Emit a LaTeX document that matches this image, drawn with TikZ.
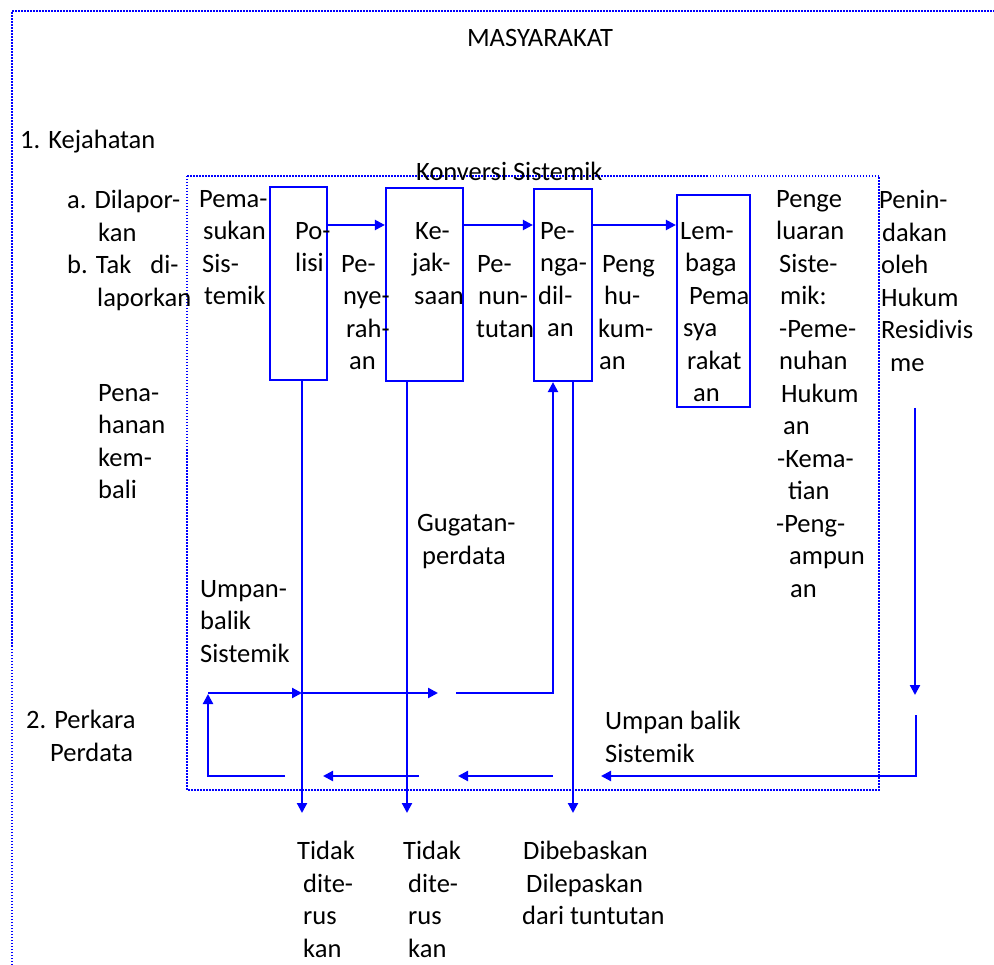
\documentclass[tikz,border=0pt]{standalone}
\usepackage{fontspec}
\setmainfont{Carlito}
\usetikzlibrary{arrows.meta, positioning, calc}

\begin{document}
\begin{tikzpicture}[
    x=1pt, y=-1pt,
    >={Triangle[length=10pt, width=10pt]},
    every node/.style={font=\fontsize{26.5}{32.5}\selectfont},
]
% Colors
\definecolor{lineblue}{RGB}{0,0,255}
% ============================================================
% Styles
% ============================================================
\tikzset{
    unitbox/.style={
        draw=lineblue,
        line width=2.2pt,
        inner sep=0pt,
    },
    flow/.style={->, lineblue, line width=2.2pt},
    frame/.style={lineblue, line width=1.5pt, dash pattern=on 1.5pt off 1.5pt},
    % texts: the given point is the baseline of the first line
    txt/.style={inner sep=0pt, anchor=north west, yshift=18.75pt, align=left,
        execute at begin node=\strut},
}
\useasboundingbox (0,0) rectangle (994,965);

% ============================================================
% Frames: society (only top and left sides visible) and system
% ============================================================
\coordinate (outerNW) at (12,11);
\draw[frame] (outerNW |- 0,965) -- (outerNW) -- (994,11);
\draw[frame] (187,176) rectangle (879,790);

\node[anchor=base, inner sep=0pt] (masy) at (540,47) {MASYARAKAT};
\node[txt] (kejahatan) at (20,144) {1. Kejahatan};
\node[txt] (konversi) at (416,176) {Konversi Sistemik};

% ============================================================
% Four institution boxes
% ============================================================
\node[unitbox, minimum width=57pt, minimum height=193pt] (polisi) at (298.5,283.5) {};
\node[unitbox, minimum width=77pt, minimum height=193pt] (kejaksaan) at (424.5,284.5) {};
\node[unitbox, minimum width=58pt, minimum height=192pt] (pengadilan) at (563,285) {};
\node[unitbox, minimum width=73pt, minimum height=212pt] (lembaga) at (713.5,301) {};

% --- Texts in and between the boxes ---
\node[txt] (lapor) at (67,209) {a. Dilapor-\\\hspace*{31pt}kan\\b. Tak\hspace{19pt}di-\\\hspace*{30pt}laporkan};
\node[txt] (pemasukan) at (199,209) {Pema-\\\hspace*{4pt}sukan\\\hspace*{3pt}Sis-\\\hspace*{5pt}temik};
\node[txt] (polisitxt) at (295,241) {Po-\\lisi};
\node[txt] (penyerahan) at (341,274) {Pe-\\\hspace*{2pt}nye-\\\hspace*{5pt}rah-\\\hspace*{8pt}an};
\node[txt] (kejaksaantxt) at (412,241) {\hspace*{3pt}Ke-\\jak-\\\hspace*{2pt}saan};
\node[txt] (penuntutan) at (476,274) {\hspace*{1pt}Pe-\\\hspace*{2pt}nun-\\tutan};
\node[txt] (pengadilantxt) at (538,241) {\hspace*{2pt}Pe-\\\hspace*{2pt}nga-\\dil-\\\hspace*{9pt}an};
\node[txt] (penghukuman) at (598,274) {\hspace*{4pt}Peng\\\hspace*{6pt}hu-\\kum-\\\hspace*{1pt}an};
\node[txt] (lembagatxt) at (680,241) {Lem-\\\hspace*{5pt}baga\\\hspace*{9pt}Pema\\\hspace*{3pt}sya\\\hspace*{7pt}rakat\\\hspace*{13pt}an};
\node[txt] (pengeluaran) at (776,209) {Penge\\luaran\\\hspace*{3pt}Siste-\\\hspace*{4pt}mik:\\\hspace*{3pt}-Peme-\\\hspace*{3pt}nuhan\\\hspace*{5pt}Hukum\\\hspace*{7pt}an\\\hspace*{1pt}-Kema-\\\hspace*{12pt}tian\\-Peng-\\\hspace*{13pt}ampun\\\hspace*{14pt}an};
\node[txt] (penindakan) at (879,209) {Penin-\\\hspace*{3pt}dakan\\\hspace*{2pt}oleh\\\hspace*{2pt}Hukum\\\hspace*{2pt}Residivis\\\hspace*{11pt}me};
\node[txt] (penahanan) at (98,403) {Pena-\\hanan\\kem-\\bali};
\node[txt] (gugatan) at (417,533) {Gugatan-\\\hspace*{5pt}perdata};
\node[txt] (umpanL) at (200,599) {Umpan-\\balik\\Sistemik};
\node[txt] (perkara) at (26,729) {2. Perkara\\\hspace*{24pt}Perdata};
\node[txt] (umpanR) at (605,730) {Umpan balik\\Sistemik};

% --- Outcomes below the system ---
\node[txt] (tidak1) at (297,860) {Tidak\\\hspace*{6pt}dite-\\\hspace*{6pt}rus\\\hspace*{6pt}kan};
\node[txt] (tidak2) at (403,860) {Tidak\\\hspace*{5pt}dite-\\\hspace*{5pt}rus\\\hspace*{5pt}kan};
\node[txt] (bebas) at (522,860) {\hspace*{1pt}Dibebaskan\\\hspace*{4pt}Dilepaskan\\dari tuntutan};

% ============================================================
% Arrows
% ============================================================
% Main flow, left to right
\coordinate (row) at (0,225);
\foreach \i/\j in {polisi/kejaksaan, kejaksaan/pengadilan, pengadilan/lembaga} {
    \draw[flow] (\i.east |- row) -- (\j.west |- row);
}
% Exits downwards
\coordinate (out1) at (302,813);
\coordinate (out2) at (407,813);
\coordinate (out3) at (573,813);
\draw[flow] (polisi.south -| out1) -- (out1);
\draw[flow] (kejaksaan.south -| out2) -- (out2);
\draw[flow] (pengadilan.south -| out3) -- (out3);

% Feedback, upper line
\coordinate (fb1) at (208,693);
\coordinate (fb2) at (302,693);
\coordinate (fb3) at (438,693);
\coordinate (fb4) at (456,693);
\coordinate (gug) at (553,693);
\draw[flow] (fb1) -- (fb2);
\draw[flow] (fb2) -- (fb3);
\draw[flow] (fb4) -- (gug) -- (gug |- pengadilan.south);

% Feedback, lower line (right to left)
\coordinate (res1) at (915,408);
\coordinate (res2) at (915,695);
\coordinate (ret1) at (285,776);
\coordinate (ret2s) at (419,776);
\coordinate (ret2e) at (323,776);
\coordinate (ret3s) at (553,776);
\coordinate (ret3e) at (458,776);
\coordinate (ret4s) at (916,715);
\coordinate (ret4e) at (601,776);
\draw[flow] (res1) -- (res2);
\draw[flow] (ret4s) |- (ret4e);
\draw[flow] (ret3s) -- (ret3e);
\draw[flow] (ret2s) -- (ret2e);
\draw[flow, shorten >=1pt] (ret1) -| (fb1);
\end{tikzpicture}
\end{document}
